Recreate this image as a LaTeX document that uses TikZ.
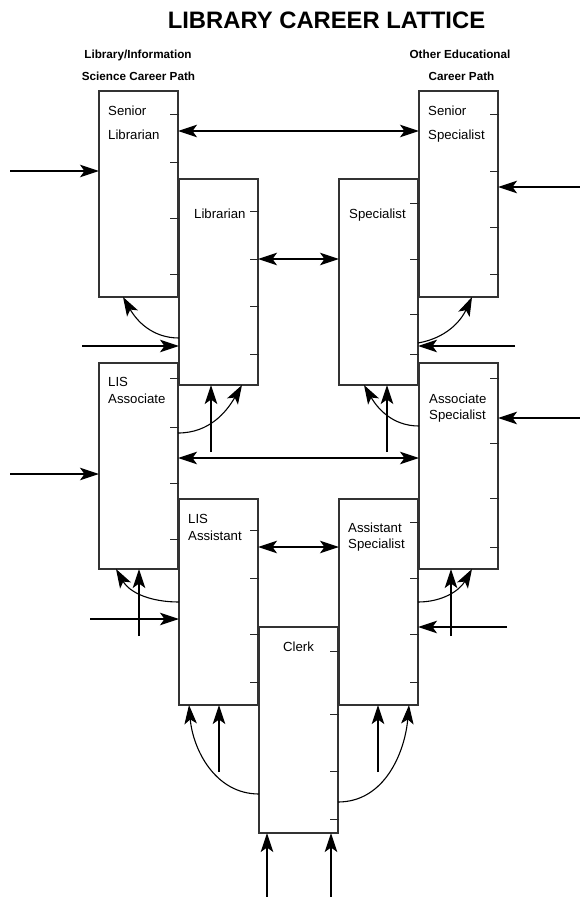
\documentclass[tikz,border=0pt]{standalone}
\usepackage{fontspec}
\setmainfont{Liberation Sans}
\usetikzlibrary{arrows.meta}
\begin{document}
\begin{tikzpicture}[x=1pt,y=-1pt,
  box/.style={draw=black!80, line width=1.3pt, inner sep=0pt, outer sep=0pt,
    minimum width=79pt, minimum height=206pt, fill=white},
  tickmark/.style={draw=black!85, line width=1pt},
  arr/.style={draw=black, line width=1.1pt, -{Stealth[length=19pt,width=12.5pt,inset=4.5pt]}},
  darr/.style={draw=black, line width=1.1pt,
    {Stealth[length=19pt,width=12.5pt,inset=4.5pt]}-{Stealth[length=19pt,width=12.5pt,inset=4.5pt]}},
  lbl/.style={font=\fontsize{13.2}{15}\selectfont, anchor=base west, inner sep=0pt},
  hdr/.style={font=\fontsize{11.7}{14}\selectfont\bfseries, anchor=base, inner sep=0pt},
]
\fill[white] (0,0) rectangle (580,897);
\useasboundingbox (0,0) rectangle (580,897);

% title and headers
\node[font=\fontsize{23.8}{28}\selectfont\bfseries, anchor=base, inner sep=0pt] (title) at (326.5,28) {LIBRARY CAREER LATTICE};
\node[hdr] (h1) at (138,58.2) {Library/Information};
\node[hdr] (h2) at (138.5,80.3) {Science Career Path};
\node[hdr] (h3) at (460,58.2) {Other Educational};
\node[hdr] (h4) at (461.5,80.8) {Career Path};

% boxes
\node[box] (sl) at (138.5,194) {};
\node[box] (lib) at (218.5,282) {};
\node[box] (la) at (138.5,466) {};
\node[box] (las) at (218.5,602) {};
\node[box] (clerk) at (298.5,730) {};
\node[box] (ss) at (458.5,194) {};
\node[box] (sp) at (378.5,282) {};
\node[box] (as) at (458.5,466) {};
\node[box] (asp) at (378.5,602) {};

% ticks
\foreach \t in {114,162,218,274} \draw[tickmark] ([xshift=1pt]sl.east |- 0,\t) -- ++(-9,0);
\foreach \t in {211,259,306,354} \draw[tickmark] ([xshift=1pt]lib.east |- 0,\t) -- ++(-9,0);
\foreach \t in {378,427,483,539} \draw[tickmark] ([xshift=1pt]la.east |- 0,\t) -- ++(-9,0);
\foreach \t in {530,578,634,682} \draw[tickmark] ([xshift=1pt]las.east |- 0,\t) -- ++(-9,0);
\foreach \t in {651,714,771,819} \draw[tickmark] ([xshift=1pt]clerk.east |- 0,\t) -- ++(-9,0);
\foreach \t in {114,171,227,274} \draw[tickmark] ([xshift=1pt]ss.east |- 0,\t) -- ++(-9,0);
\foreach \t in {203,259,314,354} \draw[tickmark] ([xshift=1pt]sp.east |- 0,\t) -- ++(-9,0);
\foreach \t in {378,443,498,547} \draw[tickmark] ([xshift=1pt]as.east |- 0,\t) -- ++(-9,0);
\foreach \t in {522,578,634,682} \draw[tickmark] ([xshift=1pt]asp.east |- 0,\t) -- ++(-9,0);

% labels
\node[lbl] (slt1) at (108,115.6) {Senior};
\node[lbl] (slt2) at (108,139.7) {Librarian};
\node[lbl] (libt) at (194,218.6) {Librarian};
\node[lbl] (lat1) at (108,386.3) {LIS};
\node[lbl] (lat2) at (108,403) {Associate};
\node[lbl] (last1) at (188,523.6) {LIS};
\node[lbl] (last2) at (188,540.6) {Assistant};
\node[lbl, anchor=base] (clt) at (298.5,651.6) {Clerk};
\node[lbl] (sst1) at (428,115.6) {Senior};
\node[lbl] (sst2) at (428,139.7) {Specialist};
\node[lbl] (spt) at (349,218.6) {Specialist};
\node[lbl] (ast1) at (429,403) {Associate};
\node[lbl] (ast2) at (429,419.6) {Specialist};
\node[lbl] (aspt1) at (348,532.3) {Assistant};
\node[lbl] (aspt2) at (348,548) {Specialist};

% horizontal double arrows
\draw[darr] (sl.east |- 0,131) -- (ss.west |- 0,131);
\draw[darr] (lib.east |- 0,259) -- (sp.west |- 0,259);
\draw[darr] (la.east |- 0,458) -- (as.west |- 0,458);
\draw[darr] (las.east |- 0,547) -- (asp.west |- 0,547);

% external horizontal arrows
\coordinate (e1) at (10,171);  \draw[arr] (e1) -- (e1 -| sl.west);
\coordinate (e2) at (10,474);  \draw[arr] (e2) -- (e2 -| la.west);
\coordinate (e3) at (580,187); \draw[arr] (e3) -- (e3 -| ss.east);
\coordinate (e4) at (580,418); \draw[arr] (e4) -- (e4 -| as.east);
\coordinate (e5) at (82,346);  \draw[arr] (e5) -- (e5 -| lib.west);
\coordinate (e6) at (515,346); \draw[arr] (e6) -- (e6 -| sp.east);
\coordinate (e7) at (90,619);  \draw[arr] (e7) -- (e7 -| las.west);
\coordinate (e8) at (507,627); \draw[arr] (e8) -- (e8 -| asp.east);

% vertical arrows
\coordinate (u1) at (211,452); \draw[arr] (u1) -- (u1 |- lib.south);
\coordinate (u2) at (387,452); \draw[arr] (u2) -- (u2 |- sp.south);
\coordinate (u3) at (139,636); \draw[arr] (u3) -- (u3 |- la.south);
\coordinate (u4) at (451,636); \draw[arr] (u4) -- (u4 |- as.south);
\coordinate (u5) at (219,772); \draw[arr] (u5) -- (u5 |- las.south);
\coordinate (u6) at (378,772); \draw[arr] (u6) -- (u6 |- asp.south);
\coordinate (u7) at (267,897); \draw[arr] (u7) -- (u7 |- clerk.south);
\coordinate (u8) at (331,897); \draw[arr] (u8) -- (u8 |- clerk.south);

% curved arrows
\draw[arr] (lib.west |- 0,338) to[out=180,in=-60] (sl.south -| 123,0);
\draw[arr] (la.east |- 0,433) to[out=0,in=-120] (lib.south -| 242,0);
\draw[arr] (sp.east |- 0,343) to[out=10,in=-115] (ss.south -| 472,0);
\draw[arr] (as.west |- 0,426) to[out=180,in=-60] (sp.south -| 364,0);
\draw[arr] (las.west |- 0,602) to[out=180,in=-60] (la.south -| 116,0);
\draw[arr] (asp.east |- 0,602) to[out=0,in=-120] (as.south -| 472,0);
\draw[arr] (clerk.west |- 0,794) to[out=180,in=-85] (las.south -| 189,0);
\draw[arr] (clerk.east |- 0,802) to[out=0,in=-95] (asp.south -| 409,0);
\end{tikzpicture}
\end{document}
